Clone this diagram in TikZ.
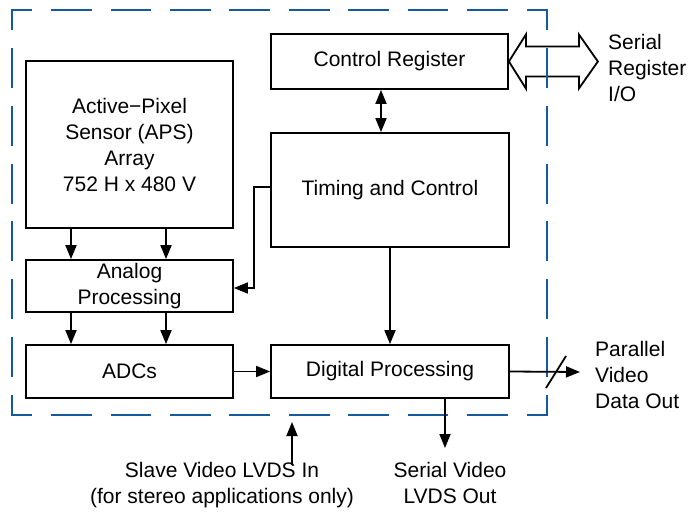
\documentclass[tikz,border=0pt]{standalone}
\usepackage{fontspec}
\setmainfont{Liberation Sans}
\usetikzlibrary{arrows.meta,calc}
\definecolor{dashblue}{RGB}{22,90,158}
\begin{document}
\begin{tikzpicture}[x=1bp,y=-1bp,
  txt/.style={font=\fontsize{21bp}{26bp}\selectfont},
  blk/.style={draw,line width=1.8bp,rectangle,inner sep=0pt,align=center,txt},
  lbl/.style={inner sep=0pt,txt},
  arr/.style={line width=1.8bp,-{Triangle[length=14bp,width=11bp]}},
  darr/.style={line width=1.8bp,{Triangle[length=14bp,width=11bp]}-{Triangle[length=14bp,width=11bp]}},
  bnd/.style={draw=dashblue,line width=2.5bp,line cap=rect}]
\useasboundingbox (0,0) rectangle (690,516);

% blocks
\node[blk,minimum width=207bp,minimum height=167bp] (aps) at (129.5,144.5)
  {Active−Pixel\\Sensor (APS)\\Array\\752 H x 480 V};
\node[blk,minimum width=207bp,minimum height=52bp] (analog) at (129.5,286)
  {Analog\\Processing};
\node[blk,minimum width=207bp,minimum height=53bp] (adc) at (129.5,371.5) {ADCs};
\node[blk,minimum width=237bp,minimum height=55bp] (creg) at (389.5,61.5) {Control Register};
\node[blk,minimum width=238bp,minimum height=114bp] (timing) at (390,190) {Timing and Control};
\node[blk,minimum width=238bp,minimum height=53bp] (digital) at (390,371.5) {Digital Processing};

% hollow double arrow
\draw[line width=1.8bp,fill=white,shift={(creg.east)}]
  (0,0) -- (17,-27) -- (17,-15) -- (70,-15) -- (70,-27) -- (89,0)
  -- (70,27) -- (70,15) -- (17,15) -- (17,27) -- cycle;

% dashed boundary
\draw[bnd,dash pattern=on 38.2bp off 21.24bp,dash phase=19.1bp] (12,10) -- (547,10);
\draw[bnd,dash pattern=on 38.2bp off 21.24bp,dash phase=19.1bp] (12,415) -- (547,415);
\draw[bnd,dash pattern=on 37.5bp off 20.357bp,dash phase=18.75bp] (12,10) -- (12,415);
\draw[bnd,dash pattern=on 37.5bp off 20.357bp,dash phase=18.75bp] (547,10) -- (547,415);

% coordinates
\coordinate (cx) at (381,0);
\coordinate (pout) at (580,372);
\coordinate (sout) at (445,448);
\coordinate (sin) at (292,465);
\coordinate (sinend) at (292,422);

% connectors
\draw[arr] ([xshift=-58.5bp]aps.south) -- ([xshift=-58.5bp]analog.north);
\draw[arr] ([xshift=36.5bp]aps.south) -- ([xshift=36.5bp]analog.north);
\draw[arr] ([xshift=-58.5bp]analog.south) -- ([xshift=-58.5bp]adc.north);
\draw[arr] ([xshift=36.5bp]analog.south) -- ([xshift=36.5bp]adc.north);
\draw[darr] (creg.south -| cx) -- (timing.north -| cx);
\draw[arr] ([yshift=3bp]timing.west) -- ++(-16,0) |- ([yshift=-2bp]analog.east);
\draw[arr] (timing.south) -- (digital.north);
\draw[arr] (adc.east) -- (digital.west);
\draw[arr] (digital.east) -- (pout);
\draw[line width=1.8bp] (546,388) -- (566,356);
\draw[arr] (digital.south -| sout) -- (sout);
\draw[arr] (sin) -- (sinend);

% labels
\node[lbl,anchor=base west,align=left] (sio) at (608,102) {Serial\\Register\\I/O};
\node[lbl,anchor=base west,align=left] (pvd) at (595,408) {Parallel\\Video\\Data Out};
\node[lbl,anchor=base,align=center] (svo) at (450,503) {Serial Video\\LVDS Out};
\node[lbl,anchor=base,align=center] (svi) at (222,503) {Slave Video LVDS In\\(for stereo applications only)};
\end{tikzpicture}
\end{document}
